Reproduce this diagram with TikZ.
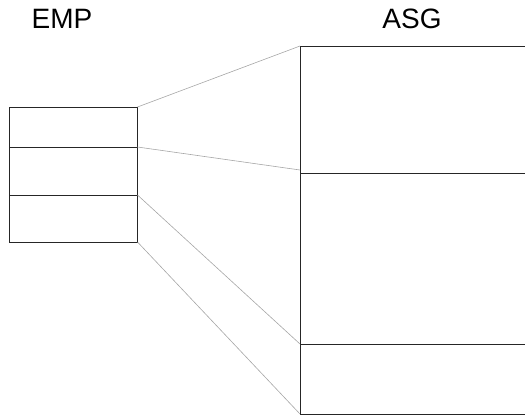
\documentclass[tikz,border=0pt]{standalone}
\usepackage{fontspec}
\setmainfont{Liberation Sans}
\begin{document}
\begin{tikzpicture}[x=1pt,y=-1pt,
  cell/.style={draw=black!85, line width=0.8pt, inner sep=0pt, outer sep=0pt, anchor=north west},
  title/.style={font=\fontsize{28}{30}\selectfont, anchor=base, inner sep=0pt},
  link/.style={draw=black!35, line width=0.6pt}]
\useasboundingbox (0,0) rectangle (525,416);
\begin{scope}
\clip (0,0) rectangle (525,416);
% left table
\node[cell, minimum width=128pt, minimum height=40pt] (e1) at (9.5,107) {};
\node[cell, minimum width=128pt, minimum height=48pt] (e2) at (9.5,147) {};
\node[cell, minimum width=128pt, minimum height=47pt] (e3) at (9.5,195) {};
% right table, running past the right edge
\node[cell, minimum width=240pt, minimum height=127pt] (a1) at (300,46) {};
\node[cell, minimum width=240pt, minimum height=171pt] (a2) at (300,173) {};
\node[cell, minimum width=240pt, minimum height=70pt] (a3) at (300,344) {};
% titles
\node[title] (emp) at (62,28) {EMP};
\node[title] (asg) at (412,28) {ASG};
% connectors
\draw[link] (e1.north east) -- (a1.north west);
\draw[link] (e1.south east) -- ([yshift=3pt]a2.north west);
\draw[link] (e3.north east) -- (a3.north west);
\draw[link] (e3.south east) -- (a3.south west);
\end{scope}
\end{tikzpicture}
\end{document}
